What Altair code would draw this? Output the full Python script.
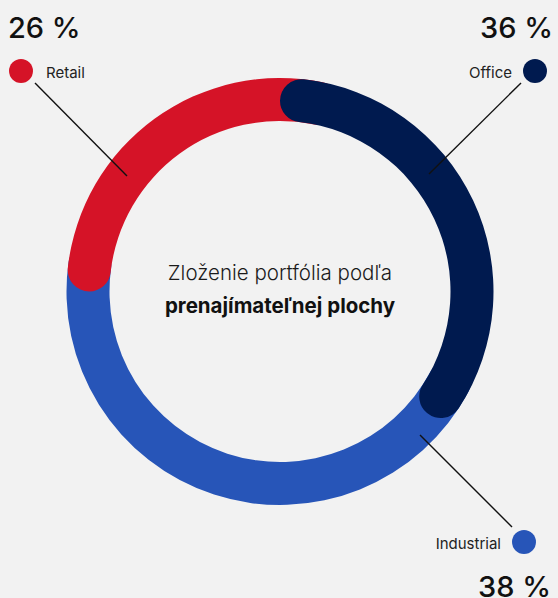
import math
import altair as alt
import pandas as pd

# ---- data ----
categories = ["Office", "Industrial", "Retail"]   # clockwise from 12 o'clock
shares = [36, 38, 26]                              # percent
colors = ["#001A4F", "#2755B8", "#D51327"]
z_order = [3, 1, 2]                                # drawing order (higher = on top)
title_line1 = "Zloženie portfólia podľa"
title_line2 = "prenajímateľnej plochy"

# ---- layout / style ----
W, H = 558, 598
CX, CY = 280, 291.5
R_OUT, R_IN = 213.5, 170.5
OV = 5          # overlap (in % units) hidden under the segment drawn on top
CAP_GAP = 1     # small offset of visible rounded starts
FONT = "Inter"
BG = "#F2F2F2"

layout = {
    "Retail":     dict(dot=(21, 71),   label=(46, 78, "left"),   line=(35, 83, 127, 176),  pct=(8, 38, "left")),
    "Office":     dict(dot=(535, 71),  label=(512, 78, "right"), line=(521, 83, 429, 174), pct=(553, 38, "right")),
    "Industrial": dict(dot=(524, 542), label=(501, 549, "right"), line=(512, 527, 420, 435), pct=(551, 597, "right")),
}

# ---- segment table ----
n = len(categories)
rows = []
cum = 0
for i, (c, v) in enumerate(zip(categories, shares)):
    s, e = cum, cum + v
    cum = e
    prev_i, next_i = (i - 1) % n, (i + 1) % n
    if z_order[prev_i] > z_order[i]:
        s -= OV
    elif i > 0:
        s += CAP_GAP
    if z_order[next_i] > z_order[i]:
        e += OV
    rows.append(dict(cat=c, share=v, t0=s, t1=e, z=z_order[i]))
seg = pd.DataFrame(rows)

color_scale = alt.Scale(domain=categories, range=colors)
theta_scale = alt.Scale(domain=[0, 100], range=[0, 2 * math.pi])

arc_layers = []
for _, r in seg.sort_values("z").iterrows():
    arc_layers.append(
        alt.Chart(seg[seg["cat"] == r["cat"]])
        .mark_arc(outerRadius=R_OUT, innerRadius=R_IN, cornerRadius=(R_OUT - R_IN) / 2)
        .encode(
            theta=alt.Theta("t0:Q", scale=theta_scale, stack=None),
            theta2="t1:Q",
            color=alt.Color("cat:N", scale=color_scale, legend=None),
            x=alt.value(CX),
            y=alt.value(CY),
        )
    )

# ---- annotations ----
ann_rows = []
for c, v in zip(categories, shares):
    L = layout[c]
    ann_rows.append(dict(
        cat=c, pct=f"{v} %",
        dx=L["dot"][0], dy=L["dot"][1],
        lx=L["label"][0], ly=L["label"][1], lalign=L["label"][2],
        x1=L["line"][0], y1=L["line"][1], x2=L["line"][2], y2=L["line"][3],
        px=L["pct"][0], py=L["pct"][1], palign=L["pct"][2],
    ))
ann = pd.DataFrame(ann_rows)

def X(f):
    return alt.X(f, scale=None, axis=None)

def Y(f):
    return alt.Y(f, scale=None, axis=None)

lines = alt.Chart(ann).mark_rule(color="#111111", strokeWidth=1.4).encode(
    x=X("x1:Q"), y=Y("y1:Q"), x2="x2:Q", y2="y2:Q"
)
dots = alt.Chart(ann).mark_point(filled=True, shape="circle", size=573, opacity=1).encode(
    x=X("dx:Q"), y=Y("dy:Q"),
    color=alt.Color("cat:N", scale=color_scale, legend=None),
)

text_layers = []
for al in ["left", "right"]:
    text_layers.append(
        alt.Chart(ann[ann["lalign"] == al]).mark_text(
            align=al, baseline="alphabetic", font=FONT, fontSize=15, fontWeight=400, color="#222222"
        ).encode(x=X("lx:Q"), y=Y("ly:Q"), text="cat:N")
    )
    text_layers.append(
        alt.Chart(ann[ann["palign"] == al]).mark_text(
            align=al, baseline="alphabetic", font=FONT, fontSize=29, fontWeight=500, color="#111111"
        ).encode(x=X("px:Q"), y=Y("py:Q"), text="pct:N")
    )

one = pd.DataFrame({"a": [0]})
center1 = alt.Chart(one).mark_text(
    align="center", baseline="alphabetic", font=FONT, fontSize=20.5, fontWeight=300, color="#1a1a1a"
).encode(x=alt.value(CX), y=alt.value(280), text=alt.value(title_line1))
center2 = alt.Chart(one).mark_text(
    align="center", baseline="alphabetic", font=FONT, fontSize=20.5, fontWeight=700, color="#111111"
).encode(x=alt.value(CX), y=alt.value(313), text=alt.value(title_line2))

chart = (
    alt.layer(*arc_layers, lines, dots, *text_layers, center1, center2)
    .properties(width=W, height=H, padding=0, autosize=alt.AutoSizeParams(type="none"), background=BG)
    .configure_view(strokeWidth=0)
)

chart.save("out.html", embed_options={"renderer": "svg", "actions": False})
